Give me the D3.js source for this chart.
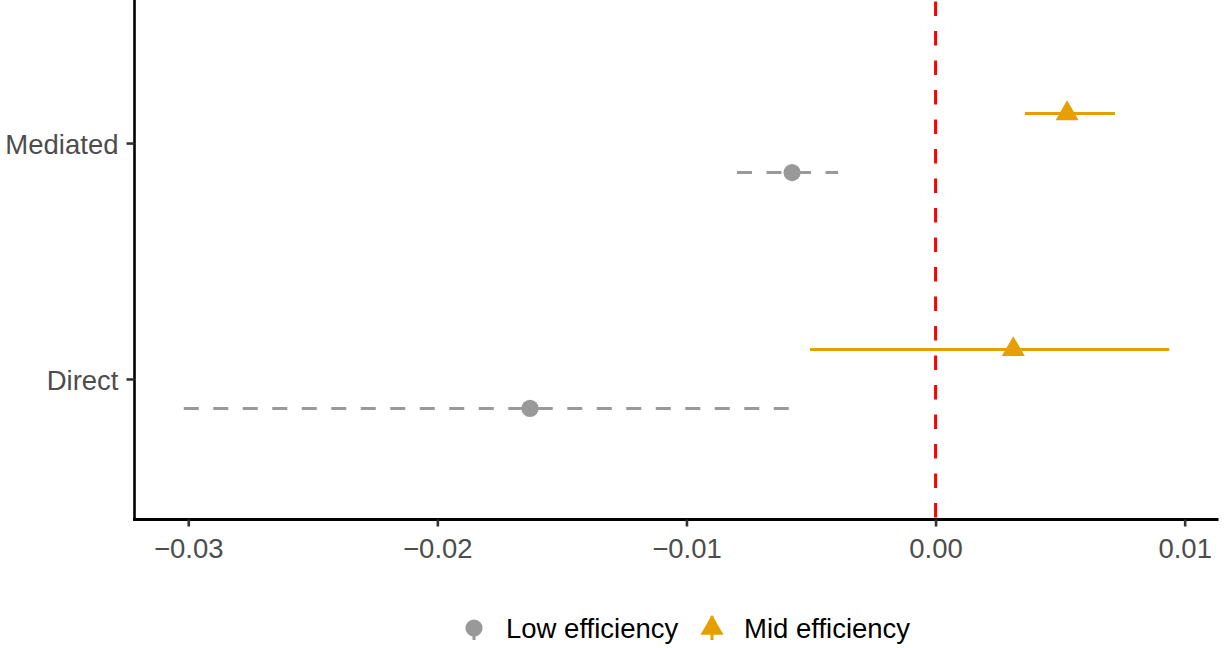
<!DOCTYPE html>
<html>
<head>
<meta charset="utf-8">
<script src="https://cdn.jsdelivr.net/npm/d3@7"></script>
<style>
  html, body { margin: 0; padding: 0; background: #fff; }
  svg { display: block; font-family: "Liberation Sans", Arial, Helvetica, sans-serif; }
</style>
</head>
<body>
<svg id="chart" width="1225" height="648"></svg>
<script>
// Effect estimates with 95% intervals, by efficiency group
const effects = ["Direct", "Mediated"];
const groups = ["Low efficiency", "Mid efficiency"];
const lowEstimate = [-0.01628, -0.00576];
const lowLower = [-0.03018, -0.00797];
const lowUpper = [-0.00584, -0.00391];
const midEstimate = [0.00312, 0.00528];
const midLower = [-0.00504, 0.00359];
const midUpper = [0.00938, 0.00720];
const xTicks = [-0.03, -0.02, -0.01, 0, 0.01];

const colors = { "Low efficiency": "#999999", "Mid efficiency": "#E69F00" };
const dashes = { "Low efficiency": "15 14.5", "Mid efficiency": null };
const dodge = { "Low efficiency": -0.125, "Mid efficiency": 0.125 };
const fontSize = 27.5;

const rows = [];
effects.forEach((e, i) => {
  rows.push({ effect: e, idx: i + 1, group: groups[0], est: lowEstimate[i], lo: lowLower[i], hi: lowUpper[i] });
  rows.push({ effect: e, idx: i + 1, group: groups[1], est: midEstimate[i], lo: midLower[i], hi: midUpper[i] });
});

const panel = { left: 134.5, right: 1218.5, top: 1.5, bottom: 520.5 };

// Continuous x scale with 5% padding on the data range
const xmin = d3.min(rows, d => d.lo), xmax = d3.max(rows, d => d.hi);
const pad = (xmax - xmin) * 0.05;
const x = d3.scaleLinear().domain([xmin - pad, xmax + pad]).range([panel.left, panel.right]);
// Discrete y positions with 0.6 expansion on each side
const y = d3.scaleLinear().domain([0.4, effects.length + 0.6]).range([panel.bottom, panel.top]);

const svg = d3.select("#chart");
const fmt = d3.format(".2f");

// Triangle glyph (filled, apex up)
function triangle(r) {
  const xc = r * 0.866;
  return `M0,${-r}L${xc},${r / 2}L${-xc},${r / 2}Z`;
}

// Interval lines and point estimates
const g = svg.append("g");
rows.forEach(d => {
  const yy = y(d.idx + dodge[d.group]);
  g.append("line")
    .attr("x1", x(d.lo)).attr("x2", x(d.hi))
    .attr("y1", yy).attr("y2", yy)
    .attr("stroke", colors[d.group])
    .attr("stroke-width", 3)
    .attr("stroke-dasharray", dashes[d.group]);
  if (d.group === groups[0]) {
    g.append("circle").attr("cx", x(d.est)).attr("cy", yy).attr("r", 8.6).attr("fill", colors[d.group]);
  } else {
    g.append("path").attr("d", triangle(13.3))
      .attr("transform", `translate(${x(d.est)},${yy})`).attr("fill", colors[d.group]);
  }
});

// Reference line at zero
svg.append("line")
  .attr("x1", x(0)).attr("x2", x(0))
  .attr("y1", panel.top).attr("y2", panel.bottom)
  .attr("stroke", "#FF0000").attr("stroke-width", 3)
  .attr("stroke-dasharray", "14.5 15");

// X axis
const xAxis = svg.append("g").attr("transform", `translate(0,${panel.bottom - 1})`)
  .call(d3.axisBottom(x).tickValues(xTicks).tickFormat(fmt).tickSize(7).tickPadding(7));
xAxis.select(".domain").attr("stroke", "#000").attr("stroke-width", 2.8)
  .attr("d", `M${panel.left - 1.4},0H${panel.right}`);
xAxis.selectAll(".tick line").attr("stroke", "#333").attr("stroke-width", 2.6);
xAxis.selectAll(".tick text").attr("fill", "#4D4D4D").attr("font-size", fontSize)
  .attr("font-family", "Liberation Sans, Arial, sans-serif").attr("dy", "0.9em");

// Y axis
const yAxis = svg.append("g").attr("transform", `translate(${panel.left},0)`)
  .call(d3.axisLeft(y).tickValues(effects.map((e, i) => i + 1))
    .tickFormat(v => effects[v - 1]).tickSize(8).tickPadding(8));
yAxis.select(".domain").attr("stroke", "#000").attr("stroke-width", 2.6)
  .attr("d", `M0,0V${panel.bottom}`);
yAxis.selectAll(".tick line").attr("stroke", "#333").attr("stroke-width", 2.6);
yAxis.selectAll(".tick text").attr("fill", "#4D4D4D").attr("font-size", fontSize)
  .attr("font-family", "Liberation Sans, Arial, sans-serif").attr("dy", "0.38em");

// Legend
const legend = svg.append("g");
const keyY = 628;
const keys = [
  { group: groups[0], kx: 474, tx: 506 },
  { group: groups[1], kx: 712, tx: 744 }
];
keys.forEach(k => {
  legend.append("line")
    .attr("x1", k.kx).attr("x2", k.kx).attr("y1", keyY + 12).attr("y2", keyY - 12)
    .attr("stroke", colors[k.group]).attr("stroke-width", 3)
    .attr("stroke-dasharray", dashes[k.group]);
  if (k.group === groups[0]) {
    legend.append("circle").attr("cx", k.kx).attr("cy", keyY).attr("r", 8.6).attr("fill", colors[k.group]);
  } else {
    legend.append("path").attr("d", triangle(13.3))
      .attr("transform", `translate(${k.kx},${keyY})`).attr("fill", colors[k.group]);
  }
  legend.append("text").attr("x", k.tx).attr("y", 638)
    .attr("font-size", fontSize).attr("fill", "#000").text(k.group);
});
</script>
</body>
</html>
